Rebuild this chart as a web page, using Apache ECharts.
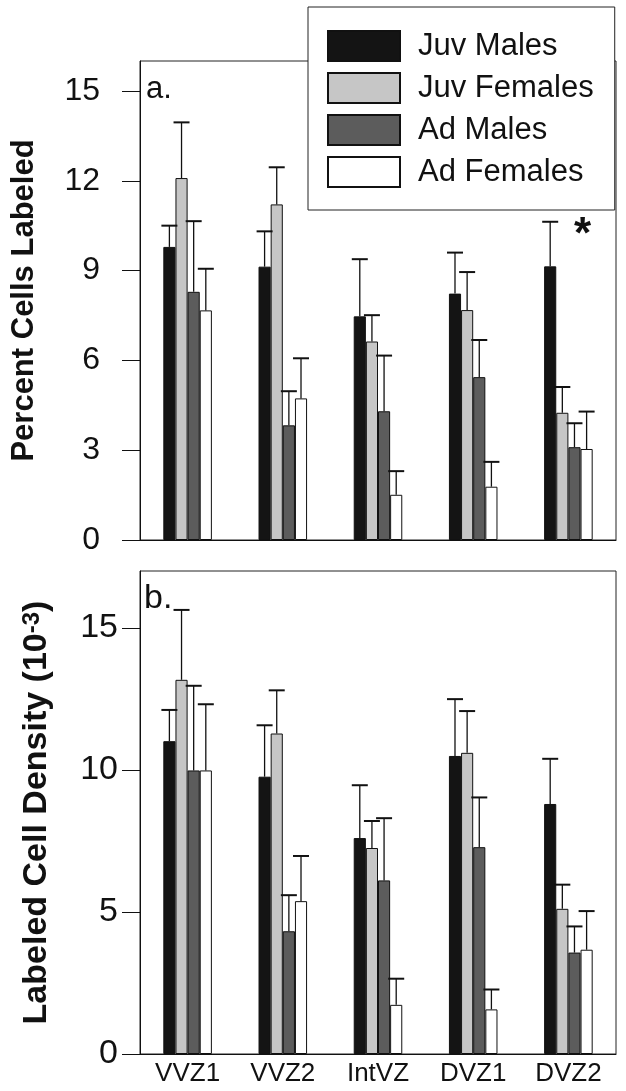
<!DOCTYPE html>
<html>
<head>
<meta charset="utf-8">
<script src="https://cdn.jsdelivr.net/npm/echarts@6/dist/echarts.min.js"></script>
<style>
html,body{margin:0;padding:0;background:#fff;}
#chart{width:626px;height:1091px;}
</style>
</head>
<body>
<div id="chart"></div>
<script>
// ---- data ----
var categories = ['VVZ1', 'VVZ2', 'IntVZ', 'DVZ1', 'DVZ2'];
var seriesNames = ['Juv Males', 'Juv Females', 'Ad Males', 'Ad Females'];

// panel a: percent cells labeled (mean and SEM)
var pctJuvMales     = [9.79, 9.13, 7.47, 8.23, 9.14];
var pctJuvMalesErr  = [0.71, 1.18, 1.91, 1.37, 1.49];
var pctJuvFemales   = [12.09, 11.21, 6.63, 7.68, 4.25];
var pctJuvFemalesErr= [1.86, 1.24, 0.88, 1.27, 0.86];
var pctAdMales      = [8.29, 3.83, 4.30, 5.44, 3.10];
var pctAdMalesErr   = [2.36, 1.14, 1.86, 1.24, 0.80];
var pctAdFemales    = [7.67, 4.73, 1.51, 1.78, 3.04];
var pctAdFemalesErr = [1.39, 1.34, 0.79, 0.83, 1.25];

// panel b: labeled cell density (x10^-3)
var denJuvMales     = [11.01, 9.76, 7.60, 10.49, 8.80];
var denJuvMalesErr  = [1.10, 1.81, 1.86, 2.00, 1.59];
var denJuvFemales   = [13.17, 11.28, 7.25, 10.60, 5.11];
var denJuvFemalesErr= [2.46, 1.52, 0.95, 1.47, 0.85];
var denAdMales      = [9.98, 4.32, 6.11, 7.28, 3.57];
var denAdMalesErr   = [2.98, 1.27, 2.19, 1.75, 0.92];
var denAdFemales    = [9.98, 5.38, 1.73, 1.57, 3.67];
var denAdFemalesErr = [2.33, 1.59, 0.92, 0.70, 1.36];

var pctTicks = [0, 3, 6, 9, 12, 15];
var denTicks = [0, 5, 10, 15];

// ---- styling ----
var FONT = 'Liberation Sans, Arial, sans-serif';
var colors = ['#141414', '#c6c6c6', '#5c5c5c', '#ffffff'];
var BAR_CAT_GAP = 0.49;

var pctMeans = [pctJuvMales, pctJuvFemales, pctAdMales, pctAdFemales];
var pctErrs  = [pctJuvMalesErr, pctJuvFemalesErr, pctAdMalesErr, pctAdFemalesErr];
var denMeans = [denJuvMales, denJuvFemales, denAdMales, denAdFemales];
var denErrs  = [denJuvMalesErr, denJuvFemalesErr, denAdMalesErr, denAdFemalesErr];

function errRender(seriesIdx) {
  return function (params, api) {
    var idx = api.value(0), mean = api.value(1), err = api.value(2);
    var base = api.coord([idx, mean]);
    var top = api.coord([idx, mean + err]);
    var band = api.size([1, 0])[0];
    var bw = band * (1 - BAR_CAT_GAP) / 4;
    var x = base[0] + (seriesIdx - 1.5) * bw;
    var hw = 8;
    return {
      type: 'group',
      children: [
        { type: 'line', shape: { x1: x, y1: base[1], x2: x, y2: top[1] },
          style: { stroke: '#111', lineWidth: 1.3 } },
        { type: 'line', shape: { x1: x - hw, y1: top[1], x2: x + hw, y2: top[1] },
          style: { stroke: '#111', lineWidth: 2 } }
      ]
    };
  };
}

var series = [];
function addPanel(means, errs, axisIdx) {
  for (var i = 0; i < 4; i++) {
    series.push({
      name: seriesNames[i], type: 'bar',
      xAxisIndex: axisIdx, yAxisIndex: axisIdx,
      data: means[i],
      barGap: '0%', barCategoryGap: (BAR_CAT_GAP * 100) + '%',
      itemStyle: { color: colors[i], borderColor: '#111', borderWidth: 1 },
      animation: false
    });
  }
  for (var j = 0; j < 4; j++) {
    var d = means[j].map(function (m, k) { return [k, m, errs[j][k]]; });
    series.push({
      name: 'err-' + axisIdx + '-' + j, type: 'custom',
      xAxisIndex: axisIdx, yAxisIndex: axisIdx,
      renderItem: errRender(j), data: d, z: 5,
      encode: { x: 0, y: 1 }, silent: true, animation: false
    });
  }
}
addPanel(pctMeans, pctErrs, 0);
addPanel(denMeans, denErrs, 1);

var option = {
  backgroundColor: '#fff',
  animation: false,
  textStyle: { fontFamily: FONT },
  grid: [
    { left: 140, top: 61, width: 476, height: 479, show: true, borderColor: '#222', borderWidth: 1, backgroundColor: 'transparent' },
    { left: 140, top: 571, width: 476, height: 483, show: true, borderColor: '#222', borderWidth: 1, backgroundColor: 'transparent' }
  ],
  legend: {
    data: seriesNames, orient: 'vertical', left: 308, top: 7,
    padding: [23, 21, 22, 19], itemWidth: 72, itemHeight: 30, itemGap: 10,
    icon: 'rect', backgroundColor: '#fff', borderColor: '#222', borderWidth: 1,
    textStyle: { fontSize: 31, color: '#111', fontFamily: FONT, padding: [0, 0, 0, 13] },
    selectedMode: false, z: 10
  },
  xAxis: [
    { type: 'category', gridIndex: 0, data: categories,
      axisLine: { lineStyle: { color: '#111' } }, axisTick: { show: false }, axisLabel: { show: false } },
    { type: 'category', gridIndex: 1, data: categories,
      axisLine: { lineStyle: { color: '#111' } }, axisTick: { show: false },
      axisLabel: { fontSize: 26, color: '#111', margin: 7, fontFamily: FONT } }
  ],
  yAxis: [
    { type: 'value', gridIndex: 0, min: 0, max: 16, interval: 3,
      name: 'Percent Cells Labeled', nameLocation: 'middle', nameGap: 100,
      nameTextStyle: { fontSize: 31, fontWeight: 'bold', color: '#111', fontFamily: FONT },
      axisLine: { show: true, lineStyle: { color: '#111' } },
      axisTick: { show: true, length: 18, lineStyle: { color: '#111' }, customValues: pctTicks },
      axisLabel: { fontSize: 32, color: '#111', margin: 40, fontFamily: FONT, customValues: pctTicks },
      splitLine: { show: false } },
    { type: 'value', gridIndex: 1, min: 0, max: 17, interval: 5,
      name: 'Labeled Cell Density (10{sup|-3})', nameLocation: 'middle', nameGap: 86,
      nameTextStyle: { fontSize: 34, fontWeight: 'bold', color: '#111', fontFamily: FONT,
        rich: { sup: { fontSize: 24, fontWeight: 'bold', verticalAlign: 'top', color: '#111', fontFamily: FONT } } },
      axisLine: { show: true, lineStyle: { color: '#111' } },
      axisTick: { show: true, length: 18, lineStyle: { color: '#111' }, customValues: denTicks },
      axisLabel: { fontSize: 34, color: '#111', margin: 22, fontFamily: FONT, customValues: denTicks },
      splitLine: { show: false } }
  ],
  graphic: [
    { type: 'text', left: 146, top: 74, z: 20,
      style: { text: 'a.', fontSize: 31, fill: '#111', fontFamily: FONT } },
    { type: 'text', left: 144, top: 582, z: 20,
      style: { text: 'b.', fontSize: 34, fill: '#111', fontFamily: FONT } },
    { type: 'text', left: 574, top: 214, z: 20,
      style: { text: '*', fontSize: 44, fontWeight: 'bold', fill: '#111', fontFamily: FONT } }
  ],
  series: series
};

var chart = echarts.init(document.getElementById('chart'), null, { renderer: 'canvas' });
chart.setOption(option);
</script>
</body>
</html>
